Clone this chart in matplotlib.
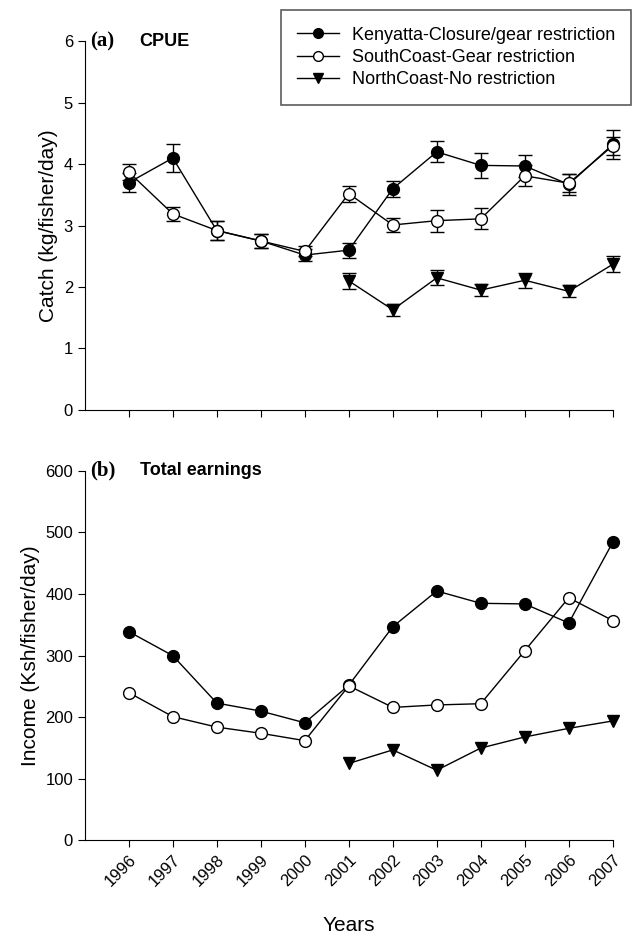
import numpy as np
import matplotlib
matplotlib.use("Agg")
from matplotlib import pyplot as plt
from matplotlib.lines import Line2D

# 数据
years = [1996, 1997, 1998, 1999, 2000, 2001, 2002, 2003, 2004, 2005, 2006, 2007]
north_years = [2001, 2002, 2003, 2004, 2005, 2006, 2007]

# (a) CPUE
ken_cpue = [3.70, 4.10, 2.92, 2.75, 2.52, 2.60, 3.60, 4.20, 3.98, 3.97, 3.67, 4.32]
ken_cpue_se = [0.15, 0.23, 0.15, 0.12, 0.10, 0.12, 0.13, 0.17, 0.20, 0.18, 0.17, 0.23]
south_cpue = [3.87, 3.19, 2.92, 2.75, 2.58, 3.52, 3.01, 3.08, 3.11, 3.81, 3.69, 4.30]
south_cpue_se = [0.13, 0.12, 0.15, 0.12, 0.08, 0.13, 0.12, 0.18, 0.17, 0.17, 0.15, 0.15]
north_cpue = [2.10, 1.63, 2.15, 1.95, 2.11, 1.93, 2.37]
north_cpue_se = [0.13, 0.10, 0.12, 0.10, 0.12, 0.10, 0.13]

# (b) Total earnings
ken_inc = [339, 300, 223, 210, 191, 252, 347, 405, 385, 384, 353, 484]
south_inc = [240, 201, 184, 174, 162, 251, 216, 220, 222, 308, 394, 357]
north_inc = [125, 147, 114, 150, 168, 182, 194]

labels = ["Kenyatta-Closure/gear restriction",
          "SouthCoast-Gear restriction",
          "NorthCoast-No restriction"]

plt.rcParams['font.family'] = ['Liberation Sans', 'DejaVu Sans']

fig = plt.figure(figsize=(6.33, 9.38), dpi=100)
ax1 = fig.add_axes([0.134, 0.563, 0.834, 0.393])
ax2 = fig.add_axes([0.134, 0.104, 0.834, 0.394])

ms = 8.5
kw = dict(color="black", lw=1, capsize=5, elinewidth=1, capthick=1, clip_on=False)

# 上图
for x, y, e, m, fc in [(years, ken_cpue, ken_cpue_se, "o", "black"),
                       (years, south_cpue, south_cpue_se, "o", "white"),
                       (north_years, north_cpue, north_cpue_se, "v", "black")]:
    ax1.errorbar(x, y, yerr=e, marker=m, ms=ms, mfc=fc, mec="black", **kw)

# 下图
ax2.plot(years, ken_inc, marker="o", ms=ms, mfc="black", mec="black", color="black", lw=1, clip_on=False)
ax2.plot(years, south_inc, marker="o", ms=ms, mfc="white", mec="black", color="black", lw=1, clip_on=False)
ax2.plot(north_years, north_inc, marker="v", ms=ms, mfc="black", mec="black", color="black", lw=1, clip_on=False)

for ax in (ax1, ax2):
    ax.spines["top"].set_visible(False)
    ax.spines["right"].set_visible(False)
    ax.set_xlim(1995, 2007)
    ax.set_xticks(years)
    ax.tick_params(direction="out", length=5, labelsize=12)

ax1.set_ylim(0, 6)
ax1.set_yticks(range(0, 7))
ax1.set_xticklabels([])
ax1.set_ylabel("Catch (kg/fisher/day)", fontsize=15)

ax2.set_ylim(0, 600)
ax2.set_yticks(range(0, 700, 100))
ax2.set_xticklabels([str(y) for y in years], rotation=45, ha="right", rotation_mode="anchor")
ax2.set_ylabel("Income (Ksh/fisher/day)", fontsize=15)
ax2.set_xlabel("Years", fontsize=15, labelpad=19)

# 标题
ax1.text(0.01, 1.0, "(a)", transform=ax1.transAxes, fontsize=15, fontweight="bold",
         family="Liberation Serif", va="center")
ax1.text(0.104, 1.0, "CPUE", transform=ax1.transAxes, fontsize=13, fontweight="bold", va="center")
ax2.text(0.01, 1.0, "(b)", transform=ax2.transAxes, fontsize=15, fontweight="bold",
         family="Liberation Serif", va="center")
ax2.text(0.104, 1.0, "Total earnings", transform=ax2.transAxes, fontsize=13, fontweight="bold", va="center")

# 图例
handles = [Line2D([], [], color="black", lw=1, marker="o", ms=7, mfc="black", mec="black"),
           Line2D([], [], color="black", lw=1, marker="o", ms=7, mfc="white", mec="black"),
           Line2D([], [], color="black", lw=1, marker="v", ms=7, mfc="black", mec="black")]
leg = fig.legend(handles, labels, loc="upper right", bbox_to_anchor=(0.997, 0.989),
                 borderaxespad=0, fontsize=13, frameon=True, fancybox=False, edgecolor="#333333",
                 borderpad=0.9, handlelength=2.3, handletextpad=0.7, labelspacing=0.3)
leg.get_frame().set_linewidth(1.2)

plt.savefig("out.png", dpi=100)
